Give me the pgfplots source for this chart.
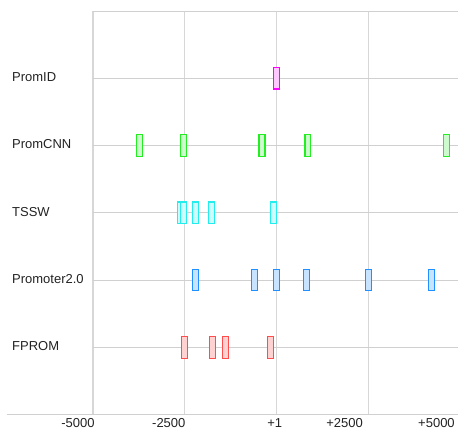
\documentclass[border=0pt]{standalone}
\usepackage{pgfplots}
\pgfplotsset{compat=1.18}
\usepackage{fontspec}
\setmainfont{Liberation Sans}
\definecolor{cPID}{HTML}{FF00FF}
\definecolor{cCNN}{HTML}{22EE22}
\definecolor{cTSSW}{HTML}{22EEEE}
\definecolor{cP2}{HTML}{1E90FF}
\definecolor{cFP}{HTML}{FF4D4D}
\definecolor{gridc}{HTML}{D0D0D0}
\definecolor{txt}{HTML}{222222}
\pgfdeclareplotmark{tallbox}{%
  \pgfpathrectangle{\pgfpoint{-3bp}{-10.8bp}}{\pgfpoint{6bp}{21.6bp}}%
  \pgfusepathqfillstroke}
\begin{document}
\fontsize{13bp}{15bp}\selectfont
\begin{tikzpicture}
\begin{axis}[
  name=ax,
  scale only axis, width=365bp, height=404bp,
  xmin=-5000, xmax=4920, ymin=0, ymax=6,
  axis line style={draw=none},
  tick style={draw=none},
  xtick={-5000,-2500,0,2500}, xticklabels={},
  ytick={1,2,3,4,5,6},
  yticklabels={FPROM,Promoter2.0,TSSW,PromCNN,PromID,{}},
  yticklabel style={anchor=base west, xshift=-81bp, yshift=-3.4bp, text=txt, inner sep=0pt},
  xmajorgrids, ymajorgrids,
  x grid style={draw=gridc!85, line width=1.3bp},
  y grid style={draw=gridc, line width=0.9bp},
  clip=false,
  every axis plot/.append style={only marks, mark=tallbox, line width=1.1bp},
]
\addplot[mark options={draw=cPID, fill=cPID!22}] coordinates {(5,5)};
\addplot[mark options={draw=cCNN, fill=cCNN!22}] coordinates {(-3723,4) (-2546,4) (-400,4) (851,4) (4611,4)};
\addplot[mark options={draw=cTSSW, fill=cTSSW!22}] coordinates {(-2609,3) (-2527,3) (-2201,3) (-1785,3) (-82,3)};
\addplot[mark options={draw=cP2, fill=cP2!25}] coordinates {(-2201,2) (-598,2) (-9,2) (807,2) (2508,2) (4220,2)};
\addplot[mark options={draw=cFP, fill=cFP!25}] coordinates {(-2508,1) (-1747,1) (-1386,1) (-163,1)};
\draw[gridc, line width=1bp] ([xshift=-86bp]rel axis cs:0,0) -- (rel axis cs:1,0);
\foreach \x/\l in {-5408/-5000, -2935/-2500, -54/+1, 1848/+2500, 4348/+5000}{
  \edef\tmp{\noexpand\node[anchor=base, yshift=-13bp, inner sep=0pt, text=txt] at (axis cs:\x,0) {\l};}\tmp
}
\end{axis}
\path[use as bounding box] ([shift={(-93bp,-16bp)}]ax.south west) rectangle ([shift={(0bp,11bp)}]ax.north east);
\end{tikzpicture}
\end{document}
